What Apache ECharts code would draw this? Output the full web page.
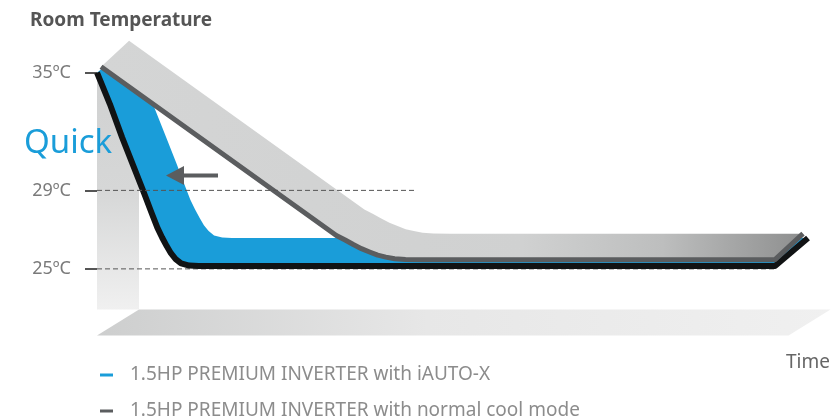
<!DOCTYPE html>
<html><head><meta charset="utf-8">
<script src="https://cdn.jsdelivr.net/npm/echarts@6/dist/echarts.min.js"></script>
<style>html,body{margin:0;padding:0;background:#fff}#c{width:834px;height:419px}</style>
</head><body><div id="c"></div>
<script>
// ---- data ----
const yTicks = [25, 29, 35];
const seriesNames = ['1.5HP PREMIUM INVERTER with iAUTO-X', '1.5HP PREMIUM INVERTER with normal cool mode'];
// [time, temperature]
const iautoCurve = [[0,35],[1.9,33.4],[3.7,31.7],[5.3,30.3],[6.9,28.9],[8.0,27.9],[8.9,27.1],[9.6,26.6],[10.3,26.15],[10.9,25.8],[11.6,25.5],[12.4,25.28],[13.6,25.17],[15,25.15],[100,25.15]];
const normalCurve = [[0.6,35.3],[35.3,26.7],[36.6,26.47],[37.8,26.24],[39.0,26.03],[40.2,25.86],[41.4,25.7],[42.6,25.6],[43.9,25.52],[45.5,25.48],[48,25.47],[100,25.47]];
const guide29 = [[0,29],[47.2,29]];
const guide25 = [[0,25],[105.5,25]];
const floorFrame = [[0, 21.6, 102]]; // time start, floor temperature level, time end

// ---- styles ----
const FONT = 'Noto Sans';
const BLUE = '#1a9dd9';
const DARK = '#5b5d5f';

function ribbon(points, D, faceFill, edgeColor, edgeWidth) {
  return function (params, api) {
    if (params.dataIndex !== 0) return null;
    const pts = [];
    for (let i = 0; i < points.length; i++) pts.push(api.coord([api.value(0, i), api.value(1, i)]));
    const shifted = pts.map(p => [p[0] + D[0], p[1] + D[1]]);
    const face = pts.concat(shifted.slice().reverse());
    const edge = pts.concat([shifted[shifted.length - 1]]);
    return {
      type: 'group',
      children: [
        { type: 'polygon', shape: { points: face }, style: { fill: faceFill } },
        { type: 'polyline', shape: { points: edge }, style: { stroke: edgeColor, lineWidth: edgeWidth, fill: null, lineJoin: 'round' } }
      ]
    };
  };
}

function frameRender(params, api) {
  const t0 = api.value(0), lvl = api.value(1), t1 = api.value(2);
  const top = api.coord([t0, 35]);
  const fl = api.coord([t0, lvl]);
  const fr = api.coord([t1, lvl]);
  const dep = [42, -26];
  return {
    type: 'group',
    children: [
      { type: 'rect', shape: { x: top[0], y: top[1], width: dep[0], height: fl[1] + dep[1] - top[1] },
        style: { fill: new echarts.graphic.LinearGradient(0, 0, 0, 1, [
          { offset: 0, color: '#d0d1d1' }, { offset: 0.5, color: '#d6d7d7' }, { offset: 1, color: '#f0f0f0' }]) } },
      { type: 'polygon', shape: { points: [fl, [fl[0] + dep[0], fl[1] + dep[1]], [fr[0] + dep[0], fr[1] + dep[1]], fr] },
        style: { fill: new echarts.graphic.LinearGradient(0, 0, 1, 0, [
          { offset: 0, color: '#cdcece' }, { offset: 0.45, color: '#e7e7e7' }, { offset: 1, color: '#f0f0f0' }]) } }
    ]
  };
}

const legendBase = {
  orient: 'vertical', left: 100, padding: 0, itemWidth: 13, itemHeight: 3,
  icon: 'rect', selectedMode: false,
  textStyle: { color: '#8c8c8c', fontSize: 19, fontFamily: FONT, lineHeight: 20, padding: [0, 0, 0, 12] }
};

const chart = echarts.init(document.getElementById('c'), null, { renderer: 'canvas' });
chart.setOption({
  animation: false,
  backgroundColor: '#fff',
  title: { text: 'Room Temperature', left: 25, top: 6,
    textStyle: { fontSize: 19, fontWeight: 'bold', color: '#555', fontFamily: FONT } },
  grid: { left: 97, right: 59, top: 53, bottom: 52 },
  xAxis: { type: 'value', min: 0, max: 100, show: false },
  yAxis: {
    type: 'value', min: 20, max: 36,
    axisLine: { show: false }, splitLine: { show: false },
    axisTick: { show: true, customValues: yTicks, length: 12, lineStyle: { color: '#555', width: 2 } },
    axisLabel: { customValues: yTicks, formatter: v => v + 'ºC', margin: 26, color: '#7a7a7a', fontSize: 18, fontFamily: FONT }
  },
  legend: [
    Object.assign({}, legendBase, { top: 365, data: [seriesNames[0]] }),
    Object.assign({}, legendBase, { top: 401, data: [seriesNames[1]] })
  ],
  series: [
    { type: 'custom', name: 'frame', data: floorFrame, renderItem: frameRender, clip: false, silent: true, z: 1 },
    { type: 'custom', name: seriesNames[0], data: iautoCurve, clip: false, silent: true, z: 3,
      itemStyle: { color: BLUE },
      renderItem: ribbon(iautoCurve, [33, -28], BLUE, '#111314', 6) },
    { type: 'custom', name: seriesNames[1], data: normalCurve, clip: false, silent: true, z: 4,
      itemStyle: { color: DARK },
      renderItem: ribbon(normalCurve, [28, -26],
        new echarts.graphic.LinearGradient(0, 0, 1, 0, [
          { offset: 0, color: '#d4d5d5' }, { offset: 0.6, color: '#d0d1d1' }, { offset: 0.8, color: '#bdbebe' }, { offset: 1, color: '#8e8f8f' }]),
        DARK, 5) },
    { type: 'line', name: 'guide29', data: guide29, symbol: 'none', clip: false, silent: true, z: 6,
      lineStyle: { color: '#555', width: 1, type: [5, 3] } },
    { type: 'line', name: 'guide25', data: guide25, symbol: 'none', clip: false, silent: true, z: 2,
      lineStyle: { color: '#555', width: 1, type: [5, 3] } }
  ],
  graphic: [
    { type: 'text', z: 100, left: 24, top: 127, style: { text: 'Quick', fill: BLUE, fontSize: 33, fontFamily: FONT } },
    { type: 'group', z: 100, silent: true, children: [
      { type: 'line', z: 100, shape: { x1: 218, y1: 175.5, x2: 180, y2: 175.5 }, style: { stroke: DARK, lineWidth: 4 } },
      { type: 'polygon', z: 100, shape: { points: [[166, 175.5], [184, 166], [184, 185]] }, style: { fill: DARK } }
    ] },
    { type: 'text', z: 100, right: 4, top: 353, style: { text: 'Time', fill: '#666', fontSize: 19, fontFamily: FONT } }
  ]
});
</script></body></html>
